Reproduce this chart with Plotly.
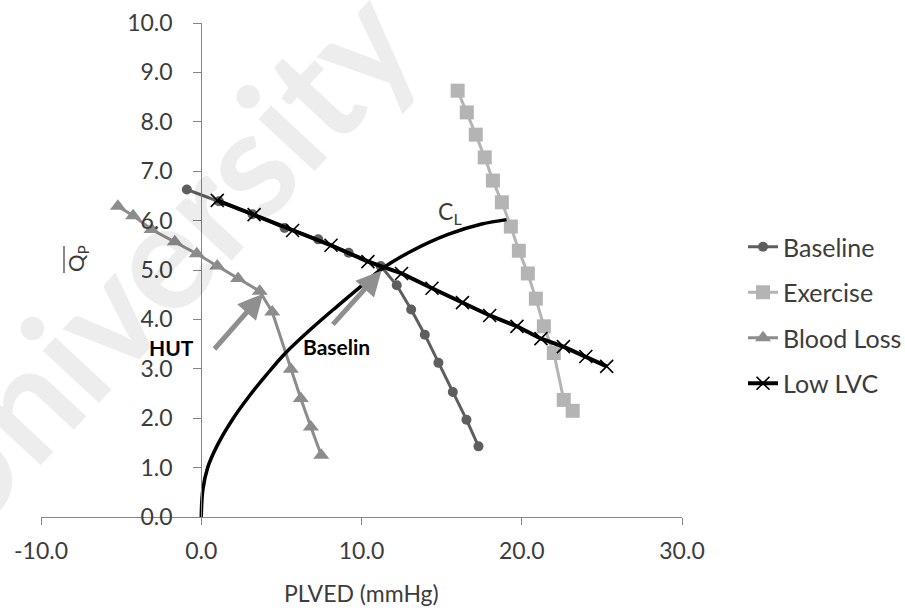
import plotly.graph_objects as go

# Left-ventricular operating curves: flow vs. end-diastolic pressure
baseline_x = [-0.9, 1.1, 3.2, 5.2, 7.3, 9.2, 11.2, 12.2, 13.1, 13.95, 14.8, 15.7, 16.55, 17.3]
baseline_y = [6.63, 6.39, 6.13, 5.85, 5.62, 5.35, 5.08, 4.69, 4.20, 3.69, 3.12, 2.53, 1.97, 1.43]

exercise_x = [16.0, 16.57, 17.13, 17.69, 18.2, 18.76, 19.32, 19.82, 20.38, 20.88, 21.38, 22.0, 22.62, 23.18]
exercise_y = [8.63, 8.19, 7.74, 7.28, 6.81, 6.37, 5.88, 5.39, 4.93, 4.42, 3.86, 3.32, 2.37, 2.15]

blood_loss_x = [-5.2, -4.25, -3.1, -1.65, -0.28, 1.0, 2.3, 3.65, 4.43, 5.59, 6.21, 6.84, 7.49]
blood_loss_y = [6.29, 6.10, 5.82, 5.57, 5.33, 5.08, 4.83, 4.57, 4.15, 2.99, 2.40, 1.82, 1.25]

low_lvc_x = [1.0, 3.3, 5.7, 8.1, 10.4, 12.5, 14.4, 16.3, 18.0, 19.7, 21.2, 22.6, 24.0, 25.3]
low_lvc_y = [6.41, 6.12, 5.80, 5.50, 5.17, 4.93, 4.63, 4.34, 4.08, 3.86, 3.61, 3.45, 3.25, 3.05]

# C_L curve
cl_x = [0.0, 0.1, 0.4, 1.0, 2.0, 3.0, 4.0, 5.2, 6.9, 8.5, 10.0, 11.3, 13.1, 15.4, 17.5, 19.05]
cl_y = [0.0, 0.55, 1.0, 1.45, 2.0, 2.45, 2.85, 3.3, 3.82, 4.27, 4.68, 5.03, 5.38, 5.72, 5.93, 6.02]

# arrows: (tail_x, tail_y, head_x, head_y)
hut_arrow = (0.74, 3.37, 3.86, 4.52)
baseline_arrow = (8.13, 3.87, 11.25, 4.99)

x_ticks = [-10, 0, 10, 20, 30]
x_tick_text = ["-10.0", "0.0", "10.0", "20.0", "30.0"]
y_ticks = [0, 1, 2, 3, 4, 5, 6, 7, 8, 9, 10]

FONT = "Lato"
TEXT = "#3c3c3c"
AXIS = "#868686"

# plot-area geometry in pixels (for paper-referenced items)
L, R, T, B = 41, 223, 23, 94
W, H = 905, 611
PW, PH = W - L - R, H - T - B


def px(xp):
    return (xp - L) / PW


def py(yp):
    return (H - B - yp) / PH


fig = go.Figure()

fig.add_trace(go.Scatter(
    x=baseline_x, y=baseline_y, name="Baseline", mode="lines+markers",
    line=dict(color="#5e5e5e", width=3),
    marker=dict(symbol="circle", size=10, color="#5e5e5e"),
    legendgroup="a",
))
fig.add_trace(go.Scatter(
    x=exercise_x, y=exercise_y, name="Exercise", mode="lines+markers",
    line=dict(color="#b4b4b4", width=3),
    marker=dict(symbol="square", size=14, color="#b4b4b4"),
    legendgroup="b",
))
fig.add_trace(go.Scatter(
    x=blood_loss_x, y=blood_loss_y, name="Blood Loss", mode="lines+markers",
    line=dict(color="#8c8c8c", width=3),
    marker=dict(symbol="triangle-up", size=14, color="#8c8c8c"),
    legendgroup="c",
))
fig.add_trace(go.Scatter(
    x=low_lvc_x, y=low_lvc_y, name="Low LVC", mode="lines+markers",
    line=dict(color="#000000", width=4),
    marker=dict(symbol="x-thin-open", size=13, color="#000000",
                line=dict(width=1.6, color="#000000")),
    legendgroup="d",
))
fig.add_trace(go.Scatter(
    x=cl_x, y=cl_y, mode="lines", showlegend=False,
    line=dict(color="#000000", width=3.5, shape="spline", smoothing=1.0),
    hoverinfo="skip",
))

annotations = []

# faint watermark
annotations.append(dict(
    text="<b>University</b>", xref="paper", yref="paper",
    x=px(151), y=py(262),
    showarrow=False, textangle=-47,
    font=dict(family=FONT, size=150, color="rgba(0,0,0,0.07)"),
    xanchor="center", yanchor="middle",
))

for tx, ty, hx, hy in (hut_arrow, baseline_arrow):
    annotations.append(dict(
        x=hx, y=hy, ax=tx, ay=ty, xref="x", yref="y", axref="x", ayref="y",
        text="", showarrow=True, arrowhead=2, arrowsize=1.0, arrowwidth=5,
        arrowcolor="#8f8f8f", standoff=0,
    ))

annotations += [
    dict(x=-1.86, y=3.43, xref="x", yref="y", text="<b>HUT</b>", showarrow=False,
         font=dict(family=FONT, size=21, color="#000000")),
    dict(x=8.44, y=3.46, xref="x", yref="y", text="<b>Baselin</b>", showarrow=False,
         font=dict(family=FONT, size=21, color="#000000")),
    dict(x=14.62, y=6.17, xref="x", yref="y", text="C<sub>L</sub>", showarrow=False,
         xanchor="left", yanchor="middle",
         font=dict(family=FONT, size=23, color=TEXT)),
    dict(x=px(77), y=py(259), xref="paper", yref="paper",
         text="Q<sub>P</sub>",
         showarrow=False, textangle=-90, xanchor="center", yanchor="middle",
         font=dict(family=FONT, size=22, color=TEXT)),
    dict(x=0.5, y=py(593), xref="paper", yref="paper",
         text="PLVED (mmHg)", showarrow=False, xanchor="center", yanchor="middle",
         font=dict(family=FONT, size=23, color=TEXT)),
]

# overbar of the rotated Q_P title
shapes = [dict(
    type="line", xref="paper", yref="paper",
    x0=px(64), x1=px(64), y0=py(246), y1=py(273),
    line=dict(color=TEXT, width=1.2),
)]

fig.update_layout(
    width=W, height=H,
    margin=dict(l=L, r=R, t=T, b=B, autoexpand=False),
    paper_bgcolor="white", plot_bgcolor="white",
    font=dict(family=FONT, size=23, color=TEXT),
    showlegend=True,
    legend=dict(
        x=px(743), xanchor="left",
        y=py(224), yanchor="top",
        font=dict(family=FONT, size=25, color=TEXT),
        tracegroupgap=10, bgcolor="rgba(0,0,0,0)",
    ),
    annotations=annotations,
    shapes=shapes,
    xaxis=dict(
        range=[-10, 30], tickvals=x_ticks, ticktext=x_tick_text,
        showline=True, linecolor=AXIS, linewidth=1,
        ticks="outside", ticklen=7, tickcolor=AXIS,
        showgrid=False, zeroline=False,
        tickfont=dict(family=FONT, size=23, color=TEXT),
        ticklabelstandoff=6,
    ),
    yaxis=dict(
        range=[0, 10], tickvals=y_ticks, tickformat=".1f",
        anchor="free", position=0.25,
        showline=True, linecolor=AXIS, linewidth=1,
        ticks="outside", ticklen=8, tickcolor=AXIS,
        showgrid=False, zeroline=False,
        tickfont=dict(family=FONT, size=23, color=TEXT),
        ticklabelstandoff=16,
    ),
)

fig.write_html("out.html")
